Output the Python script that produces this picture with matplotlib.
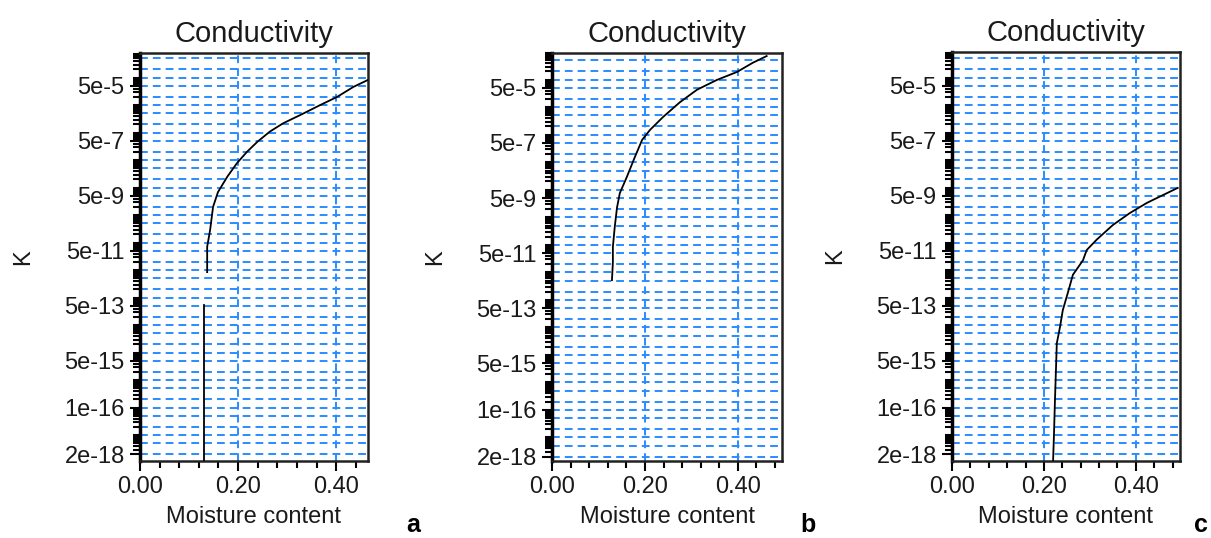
import matplotlib
matplotlib.use("Agg")
import matplotlib.pyplot as plt
from matplotlib.ticker import FixedLocator, LogLocator, MultipleLocator, NullFormatter
import numpy as np

plt.rcParams["font.family"] = ["Liberation Sans", "DejaVu Sans"]

# --- data ---
panel_tags = ["a", "b", "c"]
x_max = [0.465, 0.495, 0.496]
k_min = [1.15e-18, 1.4e-18, 1.15e-18]
k_max = [7.9e-4, 9.3e-4, 8.6e-4]

ytick_values = [5e-5, 5e-7, 5e-9, 5e-11, 5e-13, 5e-15, 1e-16, 2e-18]
ytick_labels = ["5e-5", "5e-7", "5e-9", "5e-11", "5e-13", "5e-15", "1e-16", "2e-18"]
xtick_values = [0.0, 0.2, 0.4]
xtick_labels = ["0.00", "0.20", "0.40"]

# panel a: upper curve and the separate vertical piece below it
theta_a = [0.137, 0.137, 0.137, 0.143, 0.149, 0.159, 0.178, 0.198, 0.218,
           0.239, 0.265, 0.292, 0.327, 0.367, 0.402, 0.435, 0.465]
k_a = [8.5e-12, 1.8e-11, 7.1e-11, 2.9e-10, 2.0e-9, 6.9e-9, 2.5e-8, 7.9e-8, 2.0e-7,
       4.6e-7, 1.1e-6, 2.2e-6, 4.4e-6, 1.0e-5, 2.0e-5, 4.6e-5, 8.3e-5]
theta_a_low = [0.131, 0.131]
k_a_low = [5.5e-13, 1e-19]

theta_b = [0.129, 0.131, 0.131, 0.135, 0.140, 0.146, 0.161, 0.178, 0.194,
           0.211, 0.239, 0.275, 0.312, 0.355, 0.398, 0.432, 0.462]
k_b = [5.2e-12, 2.2e-11, 8.3e-11, 4.4e-10, 2.3e-9, 7.6e-9, 2.9e-8, 1.5e-7, 6.5e-7,
       1.5e-6, 4.4e-6, 1.5e-5, 4.3e-5, 9.8e-5, 1.9e-4, 4.1e-4, 7.2e-4]

theta_c = [0.220, 0.220, 0.222, 0.224, 0.226, 0.228, 0.235, 0.241, 0.252, 0.263,
           0.285, 0.293, 0.315, 0.350, 0.387, 0.424, 0.459, 0.491]
k_c = [1e-19, 1.26e-18, 1.3e-17, 1.9e-16, 2.0e-15, 2.2e-14, 8.7e-14, 3.5e-13, 1.5e-12,
       6.8e-12, 2.3e-11, 5.4e-11, 1.3e-10, 4.4e-10, 1.2e-9, 2.8e-9, 5.4e-9, 9.8e-9]

curves = [
    [(theta_a, k_a), (theta_a_low, k_a_low)],
    [(theta_b, k_b)],
    [(theta_c, k_c)],
]

# axes boxes in pixels (left, right, top, bottom)
boxes = [(140, 368, 53, 461), (552, 782, 53, 461), (952, 1180, 52, 461)]
tag_x = [413, 808, 1201]

W, H = 1211, 538
grid_color = "#2a8cff"
text_color = "#1a1a1a"

fig = plt.figure(figsize=(W / 100, H / 100), dpi=100)

for i in range(3):
    l, r, t, b = boxes[i]
    ax = fig.add_axes([l / W, (H - b) / H, (r - l) / W, (b - t) / H])
    ax.set_yscale("log")
    ax.set_xlim(0, x_max[i])
    ax.set_ylim(k_min[i], k_max[i])

    # dashed grid at 1, 2, 5 of each decade, plus 0.2 / 0.4 verticals
    for e in range(-19, -2):
        for m in (1, 2, 5):
            v = m * 10.0 ** e
            if k_min[i] < v < k_max[i]:
                ax.axhline(v, color=grid_color, lw=1.4, ls=(0, (4, 2.6)), zorder=1)
    for xv in xtick_values[1:]:
        ax.axvline(xv, color=grid_color, lw=1.4, ls=(0, (4, 2.6)), zorder=1)

    for xs, ks in curves[i]:
        ax.plot(xs, ks, color="black", lw=1.3, zorder=3)

    ax.yaxis.set_major_locator(FixedLocator(ytick_values))
    ax.set_yticklabels(ytick_labels)
    ax.yaxis.set_minor_locator(LogLocator(base=10, subs=np.arange(1, 10), numticks=100))
    ax.yaxis.set_minor_formatter(NullFormatter())
    ax.xaxis.set_major_locator(FixedLocator(xtick_values))
    ax.set_xticklabels(xtick_labels)
    ax.xaxis.set_minor_locator(MultipleLocator(0.04))

    ax.tick_params(axis="both", which="major", direction="out", length=7, width=1.5,
                   labelsize=17, labelcolor=text_color)
    ax.tick_params(axis="both", which="minor", direction="out", length=5, width=1.5)
    ax.tick_params(axis="y", pad=4)
    for s in ax.spines.values():
        s.set_linewidth(1.8)
        s.set_color("#222222")
    ax.spines["left"].set_linewidth(2.5)
    ax.spines["left"].set_color("black")

    ax.set_title("Conductivity", fontsize=21, color=text_color, pad=8)
    ax.set_xlabel("Moisture content", fontsize=17, color=text_color, labelpad=6)
    ax.set_ylabel("K", fontsize=17, color=text_color, labelpad=22)

    fig.text(tag_x[i] / W, 1.5 / H, panel_tags[i], fontsize=18,
             fontweight="bold", ha="center", va="bottom", color="black")

fig.savefig("out.png", dpi=100)
